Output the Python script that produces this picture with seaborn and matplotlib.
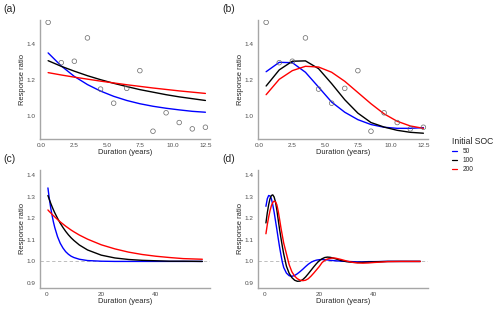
import pandas as pd
import seaborn as sns
import matplotlib.pyplot as plt
from matplotlib.lines import Line2D

# observed response ratios (panels a, b)
obs_x = [0.5, 1.5, 2.5, 3.5, 4.5, 5.5, 6.5, 7.5, 8.5, 9.5, 10.5, 11.5, 12.5]
obs_y = [1.519, 1.296, 1.304, 1.433, 1.150, 1.072, 1.154, 1.252, 0.917, 1.019, 0.965, 0.930, 0.939]

# (a) first-order fits
a_50 = [1.350, 1.278, 1.220, 1.175, 1.139, 1.110, 1.087, 1.069, 1.055, 1.044, 1.035, 1.027, 1.022]
a_100 = [1.307, 1.276, 1.249, 1.224, 1.202, 1.182, 1.164, 1.147, 1.133, 1.119, 1.107, 1.097, 1.087]
a_200 = [1.241, 1.228, 1.216, 1.205, 1.194, 1.184, 1.174, 1.165, 1.156, 1.148, 1.140, 1.133, 1.126]

# (b) oscillating fits
b_50 = [1.246, 1.298, 1.296, 1.243, 1.161, 1.078, 1.022, 0.981, 0.954, 0.939, 0.933, 0.933, 0.937]
b_100 = [1.167, 1.256, 1.304, 1.306, 1.263, 1.180, 1.091, 1.017, 0.965, 0.940, 0.922, 0.911, 0.906]
b_200 = [1.119, 1.204, 1.252, 1.276, 1.272, 1.243, 1.193, 1.131, 1.069, 1.013, 0.972, 0.946, 0.933]

# (c) long-term first-order projection
c_x = [0.5, 1, 1.5, 2, 2.5, 3, 4, 5, 6, 7, 8, 9, 10, 12, 15, 20, 25, 30, 35, 40, 45, 50, 57]
c_50 = [1.340, 1.291, 1.249, 1.214, 1.183, 1.157, 1.115, 1.084, 1.062, 1.045, 1.033, 1.024,
        1.018, 1.010, 1.004, 1.001, 1.000, 1.000, 1.000, 1.000, 1.000, 1.000, 1.000]
c_100 = [1.305, 1.287, 1.270, 1.254, 1.239, 1.225, 1.200, 1.177, 1.157, 1.139, 1.123, 1.109,
         1.097, 1.076, 1.053, 1.029, 1.016, 1.009, 1.005, 1.003, 1.001, 1.001, 1.000]
c_200 = [1.238, 1.231, 1.225, 1.218, 1.212, 1.206, 1.194, 1.183, 1.173, 1.163, 1.154, 1.145,
         1.137, 1.122, 1.103, 1.077, 1.058, 1.043, 1.032, 1.024, 1.018, 1.013, 1.010]

# (d) long-term oscillating projection
d_x = [0.5, 1, 1.5, 2, 2.5, 3, 3.5, 4, 4.5, 5, 5.5, 6, 6.5, 7, 8, 9, 10, 11, 12, 13, 14, 15,
       16, 17, 18, 19, 20, 21, 22, 23, 24, 25, 26, 28, 30, 32, 34, 36, 38, 40, 45, 50, 57]
d_50 = [1.255, 1.290, 1.305, 1.303, 1.290, 1.262, 1.228, 1.188, 1.148, 1.106, 1.066, 1.030,
        0.997, 0.972, 0.946, 0.934, 0.931, 0.935, 0.943, 0.953, 0.964, 0.976, 0.987, 0.996,
        1.002, 1.006, 1.008, 1.009, 1.008, 1.007, 1.005, 1.004, 1.003, 1.001, 1.000, 0.999,
        0.998, 0.998, 0.999, 0.999, 1.000, 1.000, 1.000]
d_100 = [1.178, 1.225, 1.262, 1.290, 1.305, 1.308, 1.298, 1.275, 1.238, 1.192, 1.148, 1.108,
         1.070, 1.035, 0.978, 0.945, 0.925, 0.913, 0.908, 0.909, 0.916, 0.928, 0.943, 0.959,
         0.975, 0.990, 1.003, 1.012, 1.018, 1.020, 1.019, 1.016, 1.012, 1.004, 0.999, 0.996,
         0.995, 0.996, 0.997, 0.998, 1.000, 1.000, 1.000]
d_200 = [1.128, 1.170, 1.205, 1.235, 1.258, 1.273, 1.279, 1.276, 1.262, 1.232, 1.195, 1.155,
         1.120, 1.085, 1.035, 0.985, 0.952, 0.932, 0.920, 0.913, 0.911, 0.913, 0.920, 0.932,
         0.946, 0.961, 0.976, 0.994, 1.005, 1.011, 1.014, 1.016, 1.015, 1.009, 1.002, 0.996,
         0.993, 0.992, 0.993, 0.995, 0.999, 1.000, 1.000]

soc_levels = ["50", "100", "200"]
palette = {"50": "#0000FF", "100": "#000000", "200": "#FF0000"}


def long_df(x, s50, s100, s200):
    parts = [pd.DataFrame({"x": x, "y": v, "soc": k})
             for k, v in zip(soc_levels, [s50, s100, s200])]
    return pd.concat(parts, ignore_index=True)


sns.set_style("white")
plt.rcParams["font.family"] = ["Liberation Sans", "DejaVu Sans"]

axis_grey = "#a6a6a6"
fig = plt.figure(figsize=(5, 3.09), dpi=100)
W, H = 500, 309


def add_axes(left, top, right, bottom):
    return fig.add_axes([left / W, 1 - bottom / H, (right - left) / W, (bottom - top) / H])


ax_a = add_axes(40, 20, 210, 139)
ax_b = add_axes(258, 20, 428, 139)
ax_c = add_axes(40, 170, 210, 288)
ax_d = add_axes(258, 170, 428, 288)

panels = [
    (ax_a, long_df(obs_x, a_50, a_100, a_200)),
    (ax_b, long_df(obs_x, b_50, b_100, b_200)),
    (ax_c, long_df(c_x, c_50, c_100, c_200)),
    (ax_d, long_df(d_x, d_50, d_100, d_200)),
]

for ax, df in panels:
    if ax in (ax_c, ax_d):
        ax.axhline(1.0, color="#b3b3b3", ls=(0, (4, 3)), lw=0.6, zorder=0)
    sns.lineplot(data=df, x="x", y="y", hue="soc", hue_order=soc_levels, palette=palette,
                 errorbar=None, legend=False, linewidth=1.0, ax=ax)
    if ax in (ax_a, ax_b):
        sns.scatterplot(x=obs_x, y=obs_y, s=11, facecolor="none", edgecolor="#666666",
                        linewidth=0.5, ax=ax, zorder=3)
        ax.set_xlim(-0.12, 12.85)
        ax.set_ylim(0.874, 1.532)
        ax.set_xticks([0, 2.5, 5, 7.5, 10, 12.5])
        ax.set_xticklabels(["0.0", "2.5", "5.0", "7.5", "10.0", "12.5"])
        ax.set_yticks([1.0, 1.2, 1.4])
        ax.set_yticklabels(["1.0", "1.2", "1.4"])
    else:
        ax.set_xlim(-2.4, 59.8)
        ax.set_ylim(0.877, 1.423)
        ax.set_xticks([0, 20, 40])
        ax.set_yticks([0.9, 1.0, 1.1, 1.2, 1.3, 1.4])
        ax.set_yticklabels(["0.9", "1.0", "1.1", "1.2", "1.3", "1.4"])
    for side in ["top", "right"]:
        ax.spines[side].set_visible(False)
    for side in ["left", "bottom"]:
        ax.spines[side].set_color(axis_grey)
        ax.spines[side].set_linewidth(1.0)
    ax.tick_params(axis="both", length=2, width=0.5, color=axis_grey, pad=1,
                   labelsize=4.6, labelcolor="#4d4d4d")
    ax.set_xlabel("Duration (years)", fontsize=5.4, labelpad=0.5)
    ax.set_ylabel("Response ratio", fontsize=5.4, labelpad=0.5)

# panel letters
for lbl, px, py in [("(a)", 3, 9), ("(b)", 222, 9), ("(c)", 3, 159), ("(d)", 222, 159)]:
    fig.text(px / W, 1 - py / H, lbl, fontsize=7.5, va="center", ha="left")

# shared legend
handles = [Line2D([0], [0], color=palette[k], lw=0.9) for k in soc_levels]
leg = fig.legend(handles, soc_levels, title="Initial SOC", loc="upper left",
                 bbox_to_anchor=(452 / W, 1 - 137 / H), frameon=False, fontsize=4.7,
                 title_fontsize=6.2, handlelength=0.8, handletextpad=0.8,
                 labelspacing=0.3, borderpad=0, borderaxespad=0, alignment="left")

fig.savefig("out.png", dpi=100)
